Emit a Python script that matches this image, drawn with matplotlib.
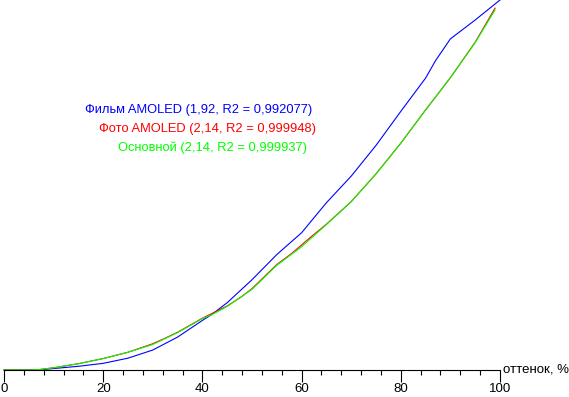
import matplotlib.pyplot as plt
from matplotlib.ticker import MultipleLocator


# Hue values, %
x_film = [0, 5, 7, 10, 15, 20, 25, 30, 35, 40, 42, 45, 50, 55, 60, 65, 70,
          75, 80, 85, 87, 90, 95, 100]
y_film = [0, 0, 0, 0.004, 0.010, 0.018, 0.032, 0.054, 0.089, 0.134, 0.151,
          0.182, 0.244, 0.312, 0.371, 0.452, 0.524, 0.607, 0.699, 0.789,
          0.836, 0.895, 0.946, 1.0]

x_photo = [0, 5, 7, 10, 15, 20, 25, 30, 32, 35, 40, 45, 48, 50, 55, 58, 62,
           65, 70, 75, 80, 85, 90, 95, 99]
y_photo = [0, 0, 0.001, 0.006, 0.017, 0.031, 0.048, 0.071, 0.083, 0.102,
           0.140, 0.173, 0.199, 0.220, 0.285, 0.315, 0.361, 0.394, 0.455,
           0.530, 0.613, 0.703, 0.790, 0.886, 0.978]

x_main = [0, 5, 7, 10, 15, 20, 25, 30, 35, 40, 42, 45, 50, 55, 60, 65, 70,
          75, 80, 85, 90, 95, 99]
y_main = [0, 0, 0.001, 0.006, 0.017, 0.031, 0.048, 0.069, 0.101, 0.139,
          0.150, 0.172, 0.218, 0.283, 0.333, 0.393, 0.455, 0.530, 0.613,
          0.703, 0.790, 0.885, 0.973]

labels = ['Фильм AMOLED (1,92, R2 = 0,992077)',
          'Фото AMOLED (2,14, R2 = 0,999948)',
          'Основной (2,14, R2 = 0,999937)']
colors = ['#0000ff', '#ff0000', '#00ff00']

plt.rcParams['font.family'] = ['Liberation Sans', 'DejaVu Sans']

fig = plt.figure(figsize=(5.69, 3.97), dpi=100)
ax = fig.add_axes([4 / 569, 27 / 397, 496 / 569, 370 / 397])

ax.plot(x_film, y_film, color=colors[0], lw=0.8, clip_on=False)
ax.plot(x_photo, y_photo, color=colors[1], lw=0.8, clip_on=False)
ax.plot(x_main, y_main, color=colors[2], lw=0.8, clip_on=False)

# Legend as coloured text lines
ax.text(85 / 569, 287 / 397, labels[0], color=colors[0], fontsize=9.3,
        transform=fig.transFigure, va='center')
ax.text(99 / 569, 268 / 397, labels[1], color=colors[1], fontsize=9.3,
        transform=fig.transFigure, va='center')
ax.text(118 / 569, 249 / 397, labels[2], color=colors[2], fontsize=9.3,
        transform=fig.transFigure, va='center')

# Format axes.
ax.set_xlim(0, 100)
ax.set_ylim(0, 1)
for side in ['top', 'right', 'left']:
    ax.spines[side].set_visible(False)
ax.spines['bottom'].set_linewidth(0.8)
ax.set_yticks([])
ax.xaxis.set_major_locator(MultipleLocator(20))
ax.xaxis.set_minor_locator(MultipleLocator(4))
ax.tick_params(axis='x', which='major', length=8.5, width=0.8, pad=1,
               labelsize=9.5)
ax.tick_params(axis='x', which='minor', length=3.6, width=0.8)
ax.text(503 / 569, 27 / 397, 'оттенок, %', fontsize=9.5,
        transform=fig.transFigure, va='center')

fig.savefig('out.png', dpi=100)
